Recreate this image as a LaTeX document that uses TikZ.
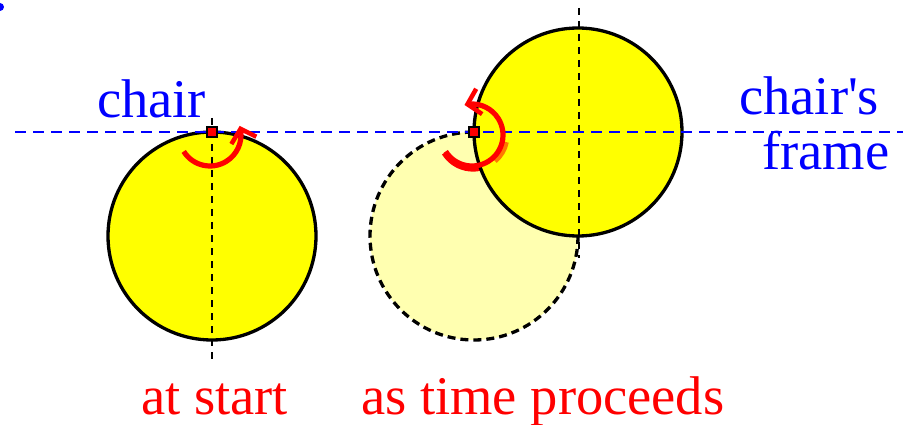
\documentclass[tikz,border=0pt]{standalone}
\usepackage{fontspec}
\setmainfont{Liberation Serif}[Ligatures=TeXOff]
\usetikzlibrary{arrows.meta,bending}
\definecolor{pureyellow}{RGB}{255,255,0}
\definecolor{paleyellow}{RGB}{255,255,176}
\definecolor{purered}{RGB}{255,0,0}
\definecolor{pureblue}{RGB}{0,0,255}
\definecolor{tintorange}{RGB}{255,120,0}
\begin{document}
\begin{tikzpicture}[x=1pt,y=-1pt,
  wheel/.style={draw=black,line width=3.3pt,fill=pureyellow},
  ghost/.style={draw=black,line width=3.3pt,dash pattern=on 8pt off 5pt,fill=paleyellow},
  axisline/.style={draw=black,line width=2.7pt,dash pattern=on 7pt off 6pt},
  frameline/.style={draw=pureblue,line width=2.7pt,dash pattern=on 11pt off 7pt},
  spin/.style={draw=purered,line width=5.2pt,-{Straight Barb[length=12pt,width=26pt,line width=4.5pt,flex]}},
  marker/.style={draw=black,fill=purered,line width=2pt,minimum size=10pt,inner sep=0pt},
  lbl/.style={font=\fontsize{54.5}{60}\selectfont,anchor=base west,inner sep=0pt}]
\useasboundingbox (0,0) rectangle (903,425);
% stray blue dot
\fill[pureblue] (0,7) circle[radius=4];
% wheels
\path[wheel] (212,236) circle[radius=104];
\path[ghost] (474,236) circle[radius=104];
% first copy of the rotation arrow, partly under the moved wheel
\draw[spin] (473,135) ++(148:34) arc[start angle=148,end angle=-10,radius=34];
\path[wheel] (578,132) circle[radius=104];
\draw[tintorange,line width=5.2pt] (473,135) ++(50:34) arc[start angle=50,end angle=12,radius=34];
% axes
\draw[axisline] (212,118) -- (212,362);
\draw[axisline] (579,8) -- (579,258);
% chair's frame line
\coordinate (fl) at (15,132);
\coordinate (fr) at (903,132);
\draw[frameline] (fl) -- (fr);
% rotation arrows
\draw[spin] (210,135) ++(148:31) arc[start angle=148,end angle=-17,radius=31];
\draw[spin] (472,135) ++(148:31) arc[start angle=148,end angle=-104,radius=31];
% chair markers
\node[marker] (m1) at (212,132) {};
\node[marker] (m2) at (474,132) {};
% labels
\node[lbl,text=pureblue] (chair) at (97,118) {chair};
\node[lbl,text=pureblue] (chairs) at (739,115) {chair's};
\node[lbl,text=pureblue] (frame) at (762,170) {frame};
\node[lbl,text=purered] (start) at (141,414) {at start};
\node[lbl,text=purered] (proceeds) at (361,414) {as time proceeds};
\end{tikzpicture}
\end{document}
